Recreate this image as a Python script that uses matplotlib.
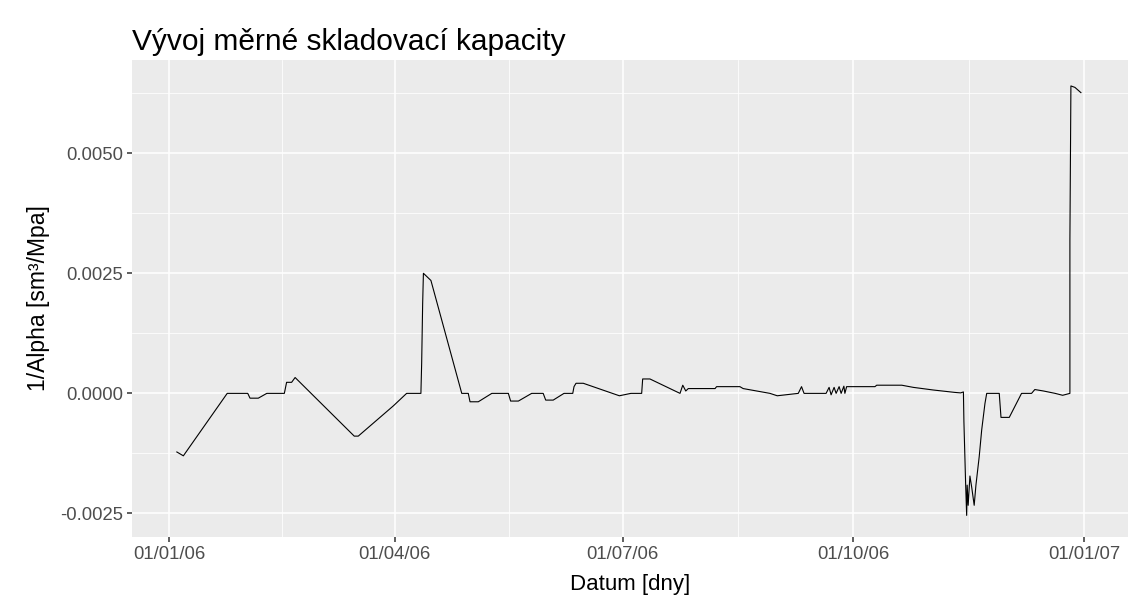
import pandas as pd
import numpy as np
import matplotlib
matplotlib.use('Agg')
import matplotlib.pyplot as plt
import matplotlib.dates as mdates
from matplotlib.ticker import FixedLocator, FuncFormatter

plt.rcParams['font.family'] = ['Liberation Sans', 'DejaVu Sans']

# days since 1 Jan 2006 and the measured 1/Alpha values
days = [3.0, 5.6, 23.1, 31.3, 32.2, 35.5, 38.9, 45.9, 46.8, 48.8, 50.2,
        73.8, 75.4, 89.4, 94.7, 100.4, 100.7, 101.1, 101.4, 104.4, 116.7,
        119.3, 120.0, 123.3, 128.7, 135.3, 136.2, 139.3, 144.6, 149.2, 150.2,
        153.2, 157.5, 161.0, 161.5, 162.3, 165.2, 179.6, 184.2, 188.5, 188.9,
        191.8, 203.8, 204.9, 206.1, 207.1, 217.8, 218.4, 227.7, 229.0, 239.7,
        242.6, 251.0, 252.3, 253.3, 262.1, 263.3, 264.1, 265.3, 266.1, 267.3,
        268.1, 269.2, 269.6, 270.3, 281.6, 282.3, 292.3, 296.9, 304.9, 313.5,
        315.8, 316.9, 317.1, 317.8, 318.2, 318.4, 318.8, 319.5, 320.2, 321.2,
        321.9, 323.2, 324.2, 325.5, 326.2, 331.2, 331.9, 335.2, 340.1, 344.1,
        345.4, 348.8, 353.5, 356.5, 359.4, 359.4, 359.8, 361.4, 363.8]
alpha_inv = [-0.00122, -0.00130, 0.0, 0.0, -0.00010, -0.00010, 0.0, 0.0,
             0.00023, 0.00023, 0.00033, -0.00089, -0.00089, -0.00026, 0.0,
             0.0, 0.000625, 0.001875, 0.00250, 0.00235, 0.0, 0.0, -0.000175,
             -0.000175, 0.0, 0.0, -0.00016, -0.00016, 0.0, 0.0, -0.00014,
             -0.00014, 0.0, 0.0, 0.00014, 0.00021, 0.00021, -0.00005, 0.0, 0.0,
             0.00030, 0.00030, 0.0, 0.00017, 0.00005, 0.00010, 0.00010, 0.00014,
             0.00014, 0.00010, 0.0, -0.00005, 0.0, 0.00014, 0.0, 0.0, 0.000125,
             -0.00003, 0.000125, 0.0, 0.00014, 0.0, 0.00015, 0.0, 0.00014,
             0.00014, 0.00017, 0.00017, 0.000125, 0.00007, 0.00002, 0.00001,
             0.00003, -0.00059, -0.00191, -0.00254, -0.00191, -0.00233,
             -0.00172, -0.00195, -0.00233, -0.00191, -0.00132, -0.00076,
             -0.00021, 0.0, 0.0, -0.00050, -0.00050, 0.0, 0.0, 0.00008, 0.00005,
             0.0, -0.00004, 0.0, 0.00320, 0.00640, 0.00637, 0.00626]

start = pd.Timestamp('2006-01-01')
dates = start + pd.to_timedelta(days, unit='D')

x_breaks = pd.to_datetime(['2006-01-01', '2006-04-01', '2006-07-01',
                           '2006-10-01', '2007-01-01'])
y_breaks = [-0.0025, 0.0, 0.0025, 0.0050]

fig = plt.figure(figsize=(11.32, 6), dpi=100)
ax = fig.add_axes([0.1166, 0.105, 0.8799, 0.795])
ax.set_facecolor('#EBEBEB')
for s in ax.spines.values():
    s.set_visible(False)

# ggplot-style minor grid halfway between the breaks
xb = mdates.date2num(x_breaks)
x_minor = (xb[:-1] + xb[1:]) / 2
y_minor = [-0.00125, 0.00125, 0.00375, 0.00625]

ax.xaxis.set_major_locator(FixedLocator(xb))
ax.xaxis.set_minor_locator(FixedLocator(x_minor))
ax.yaxis.set_major_locator(FixedLocator(y_breaks))
ax.yaxis.set_minor_locator(FixedLocator(y_minor))
ax.xaxis.set_major_formatter(mdates.DateFormatter('%d/%m/%y'))
ax.yaxis.set_major_formatter(FuncFormatter(lambda v, p: f'{v:.4f}'))

ax.grid(which='major', color='white', lw=1.1)
ax.grid(which='minor', color='white', lw=0.55)
ax.set_axisbelow(True)
ax.tick_params(which='major', length=3.5, width=1.1, color='#333333',
               labelcolor='#4D4D4D', labelsize=13.3, pad=3)
ax.tick_params(which='minor', length=0)

ax.plot(mdates.date2num(dates), alpha_inv, color='black', lw=0.8)

ax.set_xlim(mdates.date2num(start) - 14.9, mdates.date2num(start) + 382.6)
ax.set_ylim(-0.00299, 0.00694)

ax.set_xlabel('Datum [dny]', fontsize=16, labelpad=8)
ax.set_ylabel('1/Alpha [sm³/Mpa]', fontsize=16.5, labelpad=7)
ax.set_title('Vývoj měrné skladovací kapacity', fontsize=21.5, loc='left', pad=7)

fig.savefig('out.png', dpi=100, facecolor='white')
